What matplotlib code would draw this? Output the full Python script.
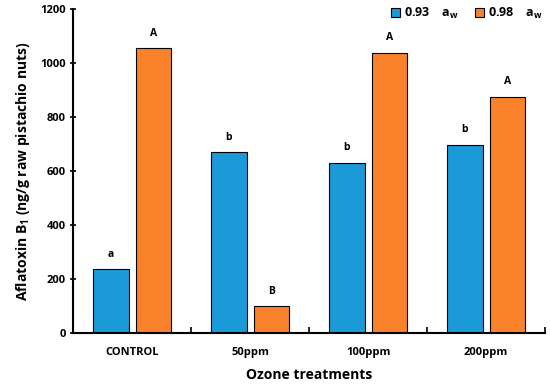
import matplotlib
matplotlib.use("Agg")
import matplotlib.pyplot as plt
import numpy as np

categories = ["CONTROL", "50ppm", "100ppm", "200ppm"]
aw093 = [237, 670, 630, 697]
aw098 = [1055, 100, 1038, 875]
letters093 = ["a", "b", "b", "b"]
letters098 = ["A", "B", "A", "A"]
series_labels = ["0.93    a$_\\mathregular{w}$", "0.98    a$_\\mathregular{w}$"]

plt.rcParams['font.family'] = ['Open Sans', 'DejaVu Sans']
plt.rcParams['mathtext.fontset'] = 'custom'
plt.rcParams['mathtext.rm'] = 'Open Sans:bold'
plt.rcParams['mathtext.it'] = 'Open Sans:bold'
plt.rcParams['mathtext.bf'] = 'Open Sans:bold'

fig = plt.figure(figsize=(5.5, 3.85), dpi=100)
ax = fig.add_axes([0.133, 0.135, 0.858, 0.842])

x = np.arange(len(categories))
w = 0.3
blue = "#1a9ad6"
orange = "#f9822b"
ax.bar(x - 0.18, aw093, w, color=blue, edgecolor="black", linewidth=0.8, label=series_labels[0])
ax.bar(x + 0.18, aw098, w, color=orange, edgecolor="black", linewidth=0.8, label=series_labels[1])

for xi, v, t in zip(x - 0.18, aw093, letters093):
    ax.text(xi, v + 35, t, ha="center", va="bottom", fontsize=7.5, fontweight="bold")
for xi, v, t in zip(x + 0.18, aw098, letters098):
    ax.text(xi, v + 35, t, ha="center", va="bottom", fontsize=7.5, fontweight="bold")

ax.set_xlim(-0.5, 3.5)
ax.set_ylim(0, 1200)
ax.set_yticks(np.arange(0, 1201, 200))
ax.set_xticks(x)
ax.set_xticklabels(categories, fontsize=8, fontweight="bold")
ax.set_xticks(np.arange(-0.5, 3.6, 1), minor=True)
ax.tick_params(axis="x", which="major", length=0, pad=10)
ax.tick_params(axis="x", which="minor", length=4, width=1.2, direction="in")
ax.tick_params(axis="y", labelsize=8, length=4, width=1.2, direction="inout")
for lab in ax.get_yticklabels():
    lab.set_fontweight("bold")
ax.spines["top"].set_visible(False)
ax.spines["right"].set_visible(False)
ax.spines["left"].set_linewidth(1.5)
ax.spines["bottom"].set_linewidth(1.5)

ax.set_ylabel("Aflatoxin B$_1$ (ng/g raw pistachio nuts)", fontsize=10, fontweight="bold", labelpad=6)
ax.set_xlabel("Ozone treatments", fontsize=10, fontweight="bold", labelpad=7)

ax.legend(loc="upper right", bbox_to_anchor=(1.02, 1.045), ncol=2, frameon=False,
          handlelength=0.75, handleheight=0.75, handletextpad=0.3,
          columnspacing=1.3, prop={"weight": "bold", "size": 9})

fig.savefig("out.png", dpi=100)
